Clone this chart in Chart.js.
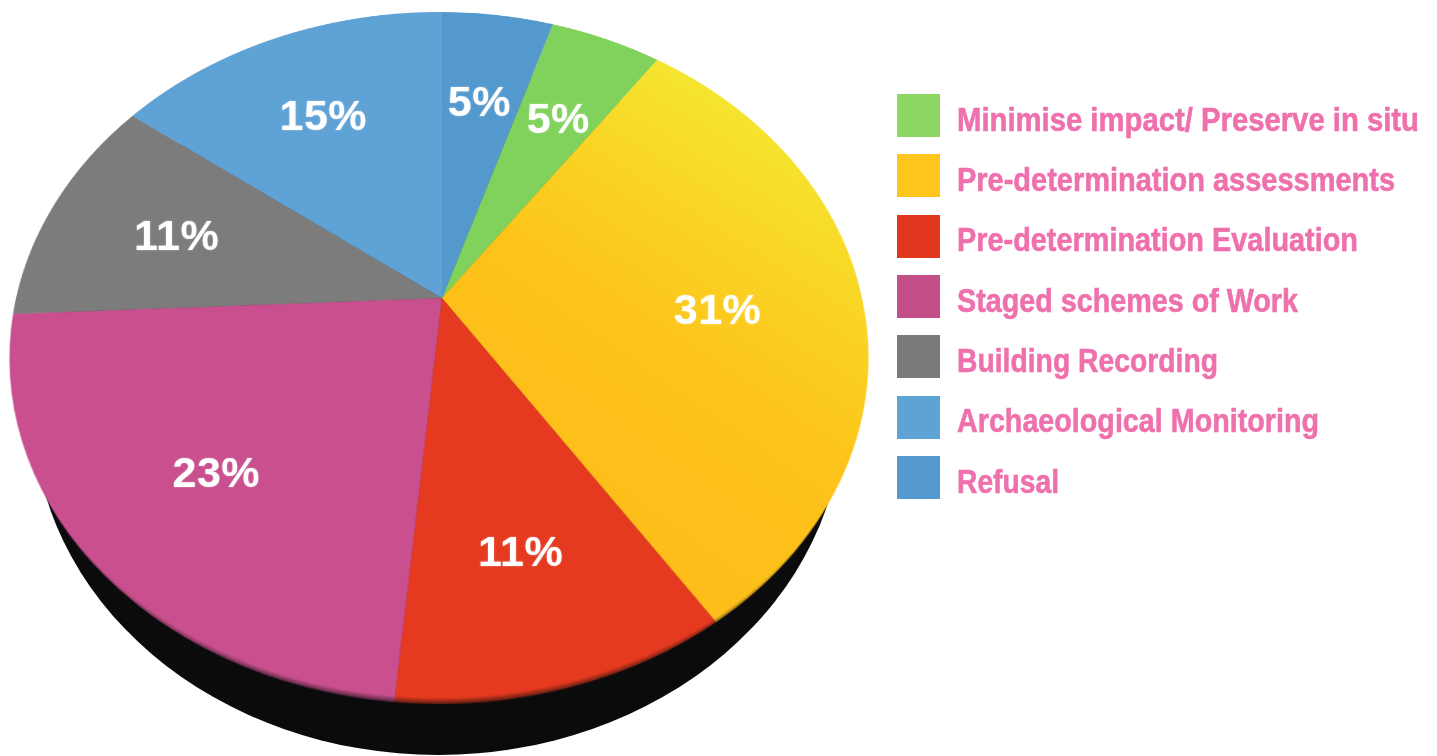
<!DOCTYPE html>
<html>
<head>
<meta charset="utf-8">
<title>Pie</title>
<script src="https://cdn.jsdelivr.net/npm/chart.js@4"></script>
<style>
  html, body { margin: 0; padding: 0; background: #fff; width: 1437px; height: 756px; overflow: hidden; }
  /* the black side of the disc */
  #side { position: absolute; left: 33px; top: 65px; width: 810px; height: 690px; border-radius: 50%; background: #0b0b0b; }
  #pieWrap { position: absolute; left: 19px; top: -125px; width: 846px; height: 846px; transform-origin: 50% 50%; }
  .pct { position: absolute; transform: translate(-50%, -50%); color: #fff; white-space: nowrap; letter-spacing: .5px;
         font: bold 43px "Liberation Sans", Arial, sans-serif; text-shadow: 0 0 2px rgba(255,255,255,.5); }
  .key { position: absolute; left: 897px; width: 43px; height: 43px; }
  .name { position: absolute; left: 957px; white-space: nowrap; color: #ee70ac; transform-origin: 0 50%;
          font: bold 34px/43px "Liberation Sans", sans-serif; -webkit-text-stroke: .6px #ee70ac; }
</style>
</head>
<body>
<div id="side"></div>
<div id="pieWrap"><canvas id="pie" width="846" height="846"></canvas></div>
<div id="overlay"></div>
<script>
  const categories = [
    "Minimise impact/ Preserve in situ",
    "Pre-determination assessments",
    "Pre-determination Evaluation",
    "Staged schemes of Work",
    "Building Recording",
    "Archaeological Monitoring",
    "Refusal",
  ];
  const shares = [5, 31, 11, 23, 11, 15, 5];
  const keyColors = ["#8ed763", "#fec51c", "#e0371e", "#c44e88", "#7a7a7a", "#5ea3d6", "#5499d0"];
  const sliceColors = ["#80d25c", null, "#e53a1f", "#c94f8e", "#7c7c7c", "#5fa2d6", "#5499ce"];
  // small hand placement of each percent label
  const labelNudge = [[1, 2], [-7, 8], [0, 8], [-2, 5], [-2, 1], [-3, -1], [-2, 2]];
  // width each legend line is squeezed to
  const nameWidths = [462, 438, 401, 341, 261, 362, 102];

  // Perspective of the disc: the near edge is bigger, and the left a touch nearer than the right
  const centerX = 442, centerY = 298, radius = 423;
  const squash = 0.7934, depthY = 0.1734, depthX = 0.0069;

  document.getElementById("pieWrap").style.transform =
    `matrix3d(1,0,0,${depthX / radius}, 0,${squash},0,${-depthY / radius}, 0,0,1,0, 0,0,0,1)`;

  function project(r, angle) {
    const u = r * Math.cos(angle), v = r * Math.sin(angle);
    const k = 1 / (1 - depthY * v + depthX * u);
    return { x: centerX + radius * u * k, y: centerY + radius * squash * v * k };
  }

  function sliceFill(ctx) {
    const color = sliceColors[ctx.dataIndex];
    if (color) return color;
    const { width, height } = ctx.chart;
    const g = ctx.chart.ctx.createLinearGradient(width * 0.45, height * 0.72, width * 0.92, height * 0.2);
    g.addColorStop(0, "#fdbb1a");
    g.addColorStop(0.45, "#fec41a");
    g.addColorStop(1, "#f5e62f");
    return g;
  }

  /* -----------------------------
   * Soft dark rim on the near edge
   * ----------------------------- */
  const rimShade = {
    id: "rimShade",
    afterDatasetsDraw(chart) {
      const { ctx, width, height } = chart;
      const cx = width / 2, cy = height / 2 - 12;
      const g = ctx.createRadialGradient(cx, cy, radius + 6.5, cx, cy, radius + 14);
      g.addColorStop(0, "rgba(10,10,10,0)");
      g.addColorStop(1, "rgba(10,10,10,.85)");
      ctx.save();
      ctx.globalCompositeOperation = "source-atop";
      ctx.fillStyle = g;
      ctx.fillRect(0, 0, width, height);
      ctx.restore();
    },
  };

  /* -----------------------------
   * Percent labels and legend, plain text above the tilted canvas
   * ----------------------------- */
  const overlay = document.getElementById("overlay");
  const pctLabels = {
    id: "pctLabels",
    afterDraw(chart) {
      overlay.querySelectorAll(".pct").forEach((el) => el.remove());
      chart.getDatasetMeta(0).data.forEach((arc, i) => {
        const p = project(0.67, (arc.startAngle + arc.endAngle) / 2);
        const el = document.createElement("div");
        el.className = "pct";
        el.textContent = shares[i] + "%";
        el.style.left = p.x + labelNudge[i][0] + "px";
        el.style.top = p.y + labelNudge[i][1] + "px";
        overlay.appendChild(el);
      });
    },
  };

  categories.forEach((name, i) => {
    const top = 94 + i * 60.3;
    const key = document.createElement("div");
    key.className = "key";
    key.style.top = top + "px";
    key.style.background = keyColors[i];
    const label = document.createElement("div");
    label.className = "name";
    label.style.top = top + 3.7 + "px";
    label.textContent = name;
    overlay.appendChild(key);
    overlay.appendChild(label);
    // condensed look of the original
    label.style.transform = `scaleX(${nameWidths[i] / label.getBoundingClientRect().width})`;
  });

  const total = shares.reduce((a, b) => a + b, 0);

  new Chart(document.getElementById("pie"), {
    type: "pie",
    data: {
      labels: categories,
      datasets: [{ data: shares, backgroundColor: sliceFill, borderWidth: 0, hoverOffset: 0 }],
    },
    options: {
      responsive: false,
      animation: false,
      devicePixelRatio: 2,
      rotation: (shares[shares.length - 1] / total) * 360,
      layout: { padding: 0 },
      plugins: { legend: { display: false }, tooltip: { enabled: false } },
    },
    plugins: [rimShade, pctLabels],
  });
</script>
</body>
</html>
